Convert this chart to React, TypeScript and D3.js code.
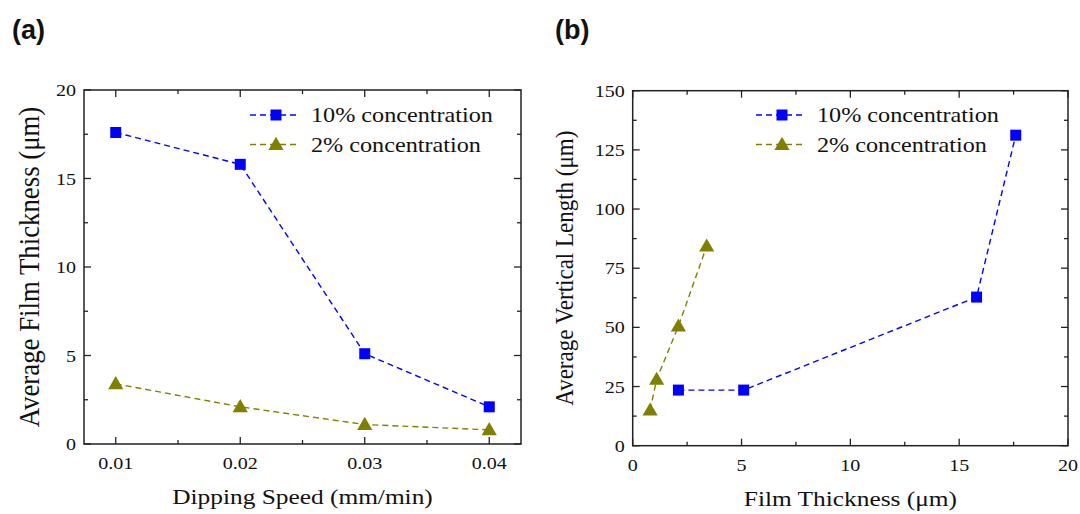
import React, { useEffect, useRef } from 'react';
import * as d3 from 'd3';

// Panel (a): thickness vs dipping speed
const speeds = [0.01, 0.02, 0.03, 0.04];
const thick10 = [17.6, 15.8, 5.1, 2.1];
const thick2 = [3.4, 2.1, 1.1, 0.8];

// Panel (b): vertical length vs film thickness
const lenThick10 = [2.1, 5.1, 15.8, 17.6];
const len10 = [23.5, 23.5, 62.8, 131.2];
const lenThick2 = [0.8, 1.1, 2.1, 3.4];
const len2 = [15.0, 28.0, 50.5, 84.3];

const speedTicks = [0.01, 0.02, 0.03, 0.04];
const thickTicks = [0, 5, 10, 15, 20];
const lengthTicks = [0, 25, 50, 75, 100, 125, 150];

const BLUE = '#0000ff';
const OLIVE = '#808000';
const SERIF = '"Liberation Serif", "Times New Roman", serif';
// the source figure's text is a bit wider than it is tall
const STRETCH = 1.18;

type Series = { xs: number[]; ys: number[]; color: string; marker: 'square' | 'triangle'; label: string };

// text helper: anchor at (x, y), stretched horizontally around the anchor
const addText = (g: any, x: number, y: number, str: string, size: number, anchor = 'start', sx = STRETCH, rotate = 0) => {
    g.append('text')
        .attr('transform', `translate(${x},${y}) scale(${sx},1)${rotate ? ` rotate(${rotate})` : ''}`)
        .attr('text-anchor', anchor)
        .style('font-family', SERIF)
        .style('font-size', `${size}px`)
        .style('fill', '#111')
        .text(str);
};

const drawPanel = (svg: any, opts: any) => {
    const { left, right, top, bottom, xDomain, yDomain, xTicks, yTicks, xMinor, yMinor, xFmt,
        xTitle, yTitle, yTitleX, yTitleSize, series, legendX, panelLabel, panelX } = opts;
    const x = d3.scaleLinear().domain(xDomain).range([left, right]);
    const y = d3.scaleLinear().domain(yDomain).range([bottom, top]);
    const g = svg.append('g');

    // frame
    g.append('rect')
        .attr('x', left).attr('y', top)
        .attr('width', right - left).attr('height', bottom - top)
        .attr('fill', 'none').attr('stroke', '#222').attr('stroke-width', 1.5);

    // inward ticks on all four sides
    const xtick = (len: number, vals: number[]) => {
        vals.forEach(v => {
            g.append('line').attr('x1', x(v)).attr('x2', x(v)).attr('y1', bottom).attr('y2', bottom - len).attr('stroke', '#222').attr('stroke-width', 1.3);
            g.append('line').attr('x1', x(v)).attr('x2', x(v)).attr('y1', top).attr('y2', top + len).attr('stroke', '#222').attr('stroke-width', 1.3);
        });
    };
    const ytick = (len: number, vals: number[]) => {
        vals.forEach(v => {
            g.append('line').attr('y1', y(v)).attr('y2', y(v)).attr('x1', left).attr('x2', left + len).attr('stroke', '#222').attr('stroke-width', 1.3);
            g.append('line').attr('y1', y(v)).attr('y2', y(v)).attr('x1', right).attr('x2', right - len).attr('stroke', '#222').attr('stroke-width', 1.3);
        });
    };
    xtick(7, xTicks);
    xtick(4, xMinor);
    ytick(7, yTicks);
    ytick(4, yMinor);

    // tick labels
    xTicks.forEach((d: number) => addText(g, x(d), bottom + 25, xFmt(d), 17, 'middle'));
    yTicks.forEach((d: number) => addText(g, left - 8, y(d) + 6, String(d), 17, 'end'));

    // axis titles
    addText(g, (left + right) / 2, bottom + 60, xTitle, 21.5, 'middle');
    addText(g, yTitleX, (top + bottom) / 2, yTitle, yTitleSize, 'middle', 1.08, -90);

    // panel label
    svg.append('text')
        .attr('x', panelX).attr('y', 39)
        .style('font-family', '"Liberation Sans", Arial, sans-serif')
        .style('font-size', '27px').style('font-weight', 'bold').style('fill', '#111')
        .text(panelLabel);

    const drawMarker = (sel: any, kind: string, cx: number, cy: number, color: string) => {
        if (kind === 'square') {
            sel.append('rect').attr('x', cx - 5.5).attr('y', cy - 5.5).attr('width', 11).attr('height', 11).attr('fill', color);
        } else {
            const s = d3.symbol().type(d3.symbolTriangle).size(100)();
            sel.append('path').attr('d', s).attr('transform', `translate(${cx},${cy + 1})`).attr('fill', color);
        }
    };

    series.forEach((s: Series) => {
        const pts = s.xs.map((v, i) => [x(v), y(s.ys[i])] as [number, number]);
        g.append('path')
            .attr('d', d3.line()(pts))
            .attr('fill', 'none').attr('stroke', s.color)
            .attr('stroke-width', 1.4).attr('stroke-dasharray', '6,4');
        pts.forEach(p => drawMarker(g, s.marker, p[0], p[1], s.color));
    });

    // legend
    series.forEach((s: Series, i: number) => {
        const ly = 115 + i * 29.5;
        g.append('line')
            .attr('x1', legendX).attr('x2', legendX + 50).attr('y1', ly).attr('y2', ly)
            .attr('stroke', s.color).attr('stroke-width', 1.4).attr('stroke-dasharray', '6,4');
        drawMarker(g, s.marker, legendX + 26, ly, s.color);
        addText(g, legendX + 61, ly + 7, s.label, 20.5);
    });
};

const App = () => {
    const ref = useRef<SVGSVGElement | null>(null);

    useEffect(() => {
        if (!ref.current) return;
        const svg = d3.select(ref.current);
        svg.selectAll('*').remove();

        drawPanel(svg, {
            left: 84, right: 521, top: 90, bottom: 444,
            xDomain: [0.00745, 0.04255], yDomain: [0, 20],
            xTicks: speedTicks, xMinor: [0.015, 0.025, 0.035],
            yTicks: thickTicks, yMinor: [2.5, 7.5, 12.5, 17.5],
            xFmt: (d: number) => d.toFixed(2),
            xTitle: 'Dipping Speed (mm/min)',
            yTitle: 'Average Film Thickness (\u03bcm)', yTitleX: 39, yTitleSize: 26.8,
            legendX: 250, panelLabel: '(a)', panelX: 12,
            series: [
                { xs: speeds, ys: thick10, color: BLUE, marker: 'square', label: '10% concentration' },
                { xs: speeds, ys: thick2, color: OLIVE, marker: 'triangle', label: '2% concentration' },
            ],
        });

        drawPanel(svg, {
            left: 632.7, right: 1068, top: 90.7, bottom: 445.7,
            xDomain: [0, 20], yDomain: [0, 150],
            xTicks: thickTicks, xMinor: [2.5, 7.5, 12.5, 17.5],
            yTicks: lengthTicks, yMinor: [12.5, 37.5, 62.5, 87.5, 112.5, 137.5],
            xFmt: (d: number) => String(d),
            xTitle: 'Film Thickness (\u03bcm)',
            yTitle: 'Average Vertical Length (\u03bcm)', yTitleX: 573, yTitleSize: 23,
            legendX: 756, panelLabel: '(b)', panelX: 555,
            series: [
                { xs: lenThick10, ys: len10, color: BLUE, marker: 'square', label: '10% concentration' },
                { xs: lenThick2, ys: len2, color: OLIVE, marker: 'triangle', label: '2% concentration' },
            ],
        });
    }, []);

    return (
        <svg ref={ref} width={1080} height={514}
            style={{ position: 'absolute', left: 0, top: 0, background: '#fff' }} />
    );
};

export default App;
